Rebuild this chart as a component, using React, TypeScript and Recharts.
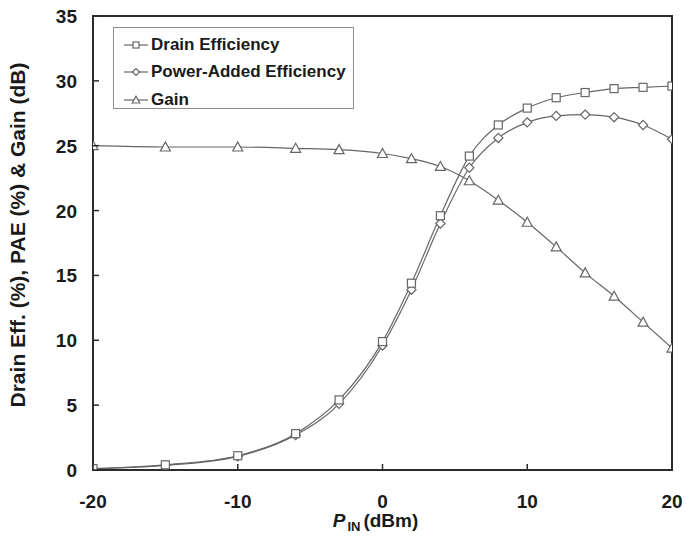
import React from 'react';
import { LineChart, Line, XAxis, YAxis, Legend, Label, ReferenceArea } from 'recharts';

// input power sweep (dBm)
const pin = [-20, -15, -10, -6, -3, 0, 2, 4, 6, 8, 10, 12, 14, 16, 18, 20];
const drainEff = [0.1, 0.4, 1.1, 2.8, 5.4, 9.9, 14.4, 19.6, 24.2, 26.6, 27.9, 28.7, 29.1, 29.4, 29.5, 29.6];
const pae = [0.1, 0.35, 1.05, 2.7, 5.1, 9.6, 13.9, 19.0, 23.3, 25.6, 26.8, 27.3, 27.4, 27.2, 26.6, 25.5];
const gain = [25.0, 24.9, 24.9, 24.8, 24.7, 24.4, 24.0, 23.4, 22.3, 20.8, 19.1, 17.2, 15.2, 13.4, 11.4, 9.4];

const xTicks = [-20, -10, 0, 10, 20];
const yTicks = [0, 5, 10, 15, 20, 25, 30, 35];

const seriesNames = ['Drain Efficiency', 'Power-Added Efficiency', 'Gain'];

const FONT = '"Liberation Sans", Arial, sans-serif';
const AXIS = '#2b2b2b';
const LINE = '#666';
const TEXT = '#1a1a1a';

const chartData = pin.map((p, i) => ({ pin: p, drain: drainEff[i], pae: pae[i], gain: gain[i] }));

type Shape = 'square' | 'diamond' | 'triangle';

function Marker({ cx, cy, shape, r = 4 }: { cx: number; cy: number; shape: Shape; r?: number }) {
  if (shape === 'square') {
    return <rect x={cx - r} y={cy - r} width={2 * r} height={2 * r} fill="#fff" stroke={LINE} strokeWidth={1.2} />;
  }
  if (shape === 'diamond') {
    const d = r * 1.15;
    return <path d={`M${cx},${cy - d}L${cx + d},${cy}L${cx},${cy + d}L${cx - d},${cy}Z`} fill="#fff" stroke={LINE} strokeWidth={1.2} />;
  }
  const t = r * 1.25;
  return <path d={`M${cx},${cy - t}L${cx + t},${cy + t * 0.8}L${cx - t},${cy + t * 0.8}Z`} fill="#fff" stroke={LINE} strokeWidth={1.2} />;
}

const dotFor = (shape: Shape) => (props: any) => {
  const { cx, cy, index } = props;
  return <Marker key={`${shape}-${index}`} cx={cx} cy={cy} shape={shape} />;
};

const YTick = (props: any) => {
  const { x, y, payload } = props;
  return (
    <g>
      <line x1={x} x2={x + 6} y1={y} y2={y} stroke={AXIS} strokeWidth={1.5} />
      <text x={x - 16} y={y} dy={7} textAnchor="end" fontFamily={FONT} fontWeight="bold" fontSize={19} fill={TEXT}>
        {payload.value}
      </text>
    </g>
  );
};

const XTick = (props: any) => {
  const { x, y, payload } = props;
  return (
    <g>
      <line x1={x} x2={x} y1={y} y2={y - 6} stroke={AXIS} strokeWidth={1.5} />
      <text x={x} y={y} dy={38} textAnchor="middle" fontFamily={FONT} fontWeight="bold" fontSize={19} fill={TEXT}>
        {payload.value}
      </text>
    </g>
  );
};

const shapes: Shape[] = ['square', 'diamond', 'triangle'];

const LegendBox = () => (
  <div style={{ border: '1px solid #8c8c8c', background: '#fff', width: 241, height: 82, boxSizing: 'border-box', paddingTop: 3 }}>
    {seriesNames.map((name, i) => (
      <div key={name} style={{ display: 'flex', alignItems: 'center', height: 27.5 }}>
        <svg width={26} height={14} style={{ marginLeft: 10 }}>
          <line x1={0} x2={24} y1={7} y2={7} stroke={LINE} strokeWidth={1.2} />
          <Marker cx={12} cy={7} shape={shapes[i]} r={3} />
        </svg>
        <span style={{ fontFamily: FONT, fontWeight: 'bold', fontSize: 17, color: TEXT, marginLeft: 1 }}>{name}</span>
      </div>
    ))}
  </div>
);

export default function App() {
  return (
    <div style={{ position: 'absolute', left: 0, top: 0, background: '#fff' }}>
      <LineChart width={686} height={541} data={chartData} margin={{ top: 16, right: 14, left: 0, bottom: 0 }}>
        <XAxis
          dataKey="pin"
          type="number"
          domain={[-20, 20]}
          ticks={xTicks}
          allowDataOverflow
          height={71}
          tickSize={0}
          tickMargin={0}
          tick={XTick}
          axisLine={{ stroke: AXIS, strokeWidth: 2 }}
          tickLine={false}
        >
          <Label
            content={(p: any) => {
              const vb = p.viewBox;
              return (
                <text x={vb.x + vb.width / 2 - 7} y={527} textAnchor="middle" fontFamily={FONT} fontWeight="bold" fontSize={19} fill={TEXT}>
                  <tspan fontStyle="italic">P</tspan>
                  <tspan fontSize={13} dy={4} dx={2}>IN</tspan>
                  <tspan dy={-4} dx={3}>(dBm)</tspan>
                </text>
              );
            }}
          />
        </XAxis>
        <YAxis
          type="number"
          domain={[0, 35]}
          ticks={yTicks}
          allowDataOverflow
          width={93}
          tickSize={0}
          tickMargin={0}
          tick={YTick}
          axisLine={{ stroke: AXIS, strokeWidth: 2 }}
          tickLine={false}
        >
          <Label
            content={(p: any) => {
              const vb = p.viewBox;
              const cx = vb.x + 25;
              const cy = vb.y + vb.height / 2 - 8;
              return (
                <text x={cx} y={cy} transform={`rotate(-90, ${cx}, ${cy})`} textAnchor="middle" fontFamily={FONT} fontWeight="bold" fontSize={21} fill={TEXT}>
                  Drain Eff. (%), PAE (%) &amp; Gain (dB)
                </text>
              );
            }}
          />
        </YAxis>
        <ReferenceArea x1={-20} x2={20} y1={0} y2={35} fill="none" stroke={AXIS} strokeWidth={2} ifOverflow="visible" />
        <Legend
          layout="horizontal"
          verticalAlign="middle"
          align="center"
          wrapperStyle={{ top: 27, left: 113, width: 241, height: 82 }}
          content={() => <LegendBox />}
        />
        <Line type="monotone" dataKey="gain" name={seriesNames[2]} stroke={LINE} strokeWidth={1.2} dot={dotFor('triangle')} isAnimationActive={false} />
        <Line type="monotone" dataKey="pae" name={seriesNames[1]} stroke={LINE} strokeWidth={1.2} dot={dotFor('diamond')} isAnimationActive={false} />
        <Line type="monotone" dataKey="drain" name={seriesNames[0]} stroke={LINE} strokeWidth={1.2} dot={dotFor('square')} isAnimationActive={false} />
      </LineChart>
    </div>
  );
}
